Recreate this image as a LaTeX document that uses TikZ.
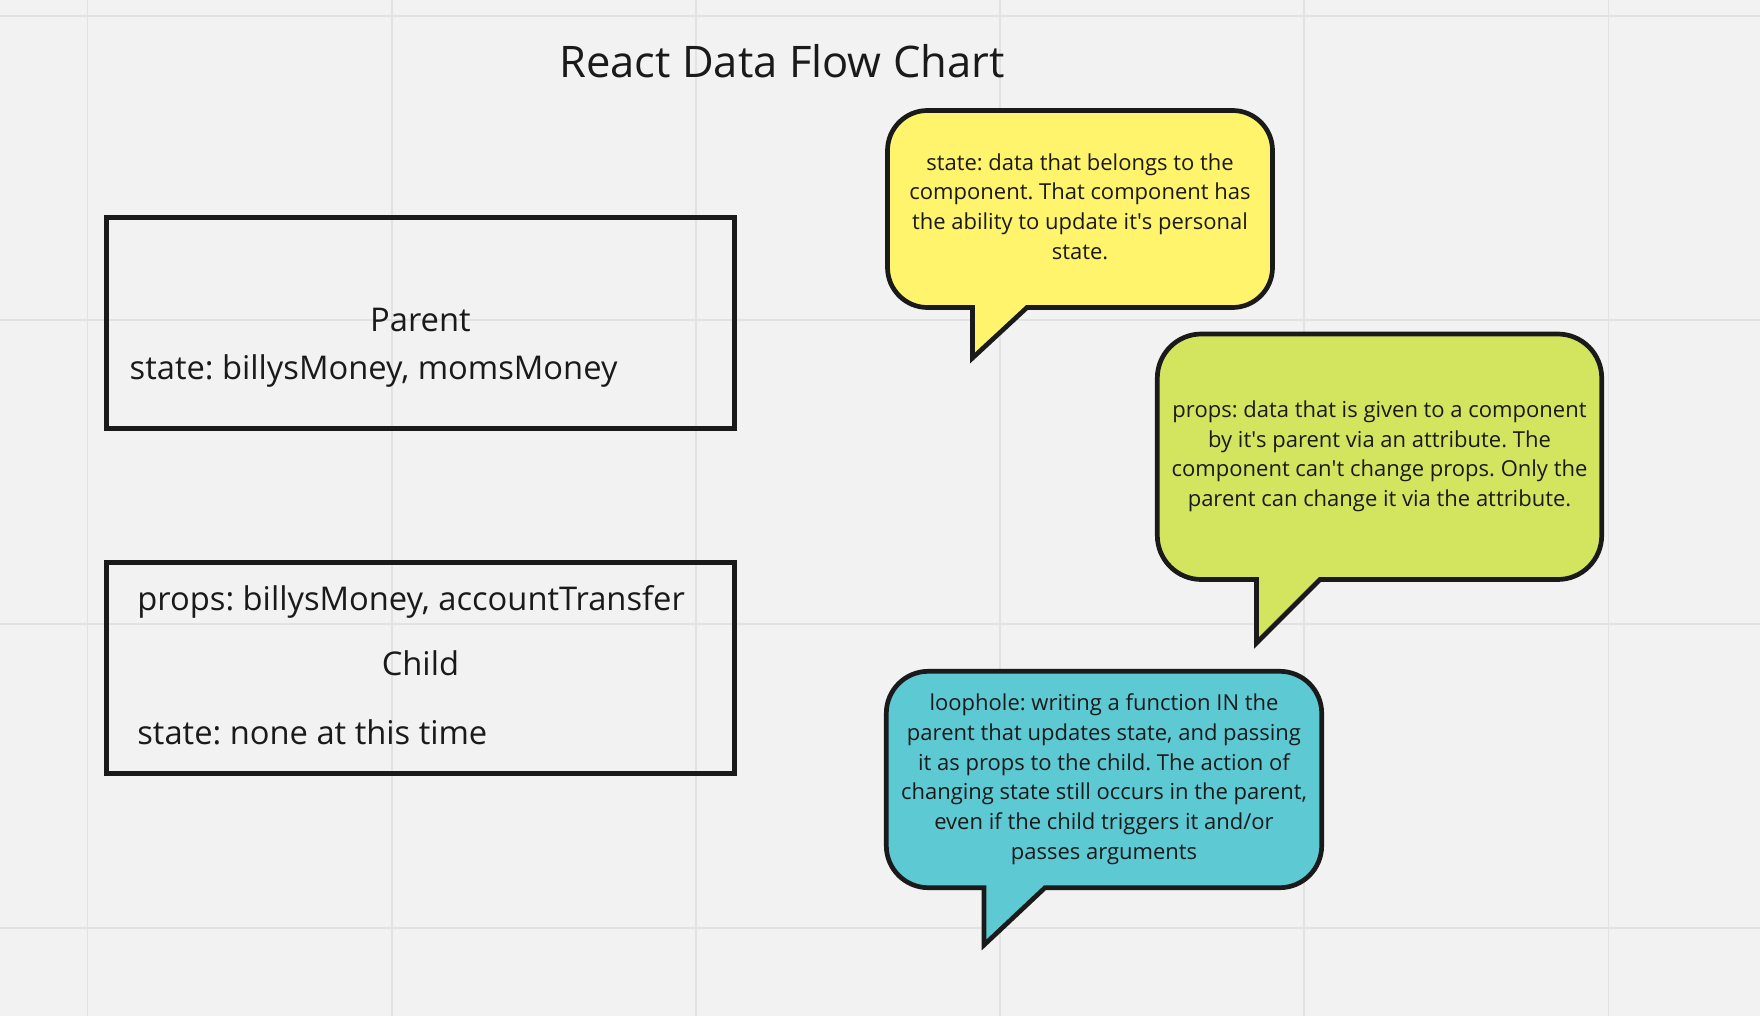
\documentclass[tikz,border=0pt]{standalone}
\usepackage{fontspec}
\setmainfont[Ligatures=NoCommon]{Open Sans}
\definecolor{bg}{HTML}{F2F2F2}
\definecolor{gridc}{HTML}{E2E2E2}
\definecolor{ink}{HTML}{1A1A1A}
\definecolor{byellow}{HTML}{FFF46B}
\definecolor{bgreen}{HTML}{D3E55F}
\definecolor{bteal}{HTML}{5DC9D3}
\tikzset{
  gridline/.style={draw=gridc, line width=1.6pt},
  compbox/.style={draw=ink, line width=5.2pt},
  bubble/.style={draw=ink, line width=4.7pt, line join=miter, miter limit=10},
  boxtext/.style={inner sep=0pt, text=ink, font=\fontsize{32.7}{40}\selectfont\frenchspacing},
  bubtext/.style={inner sep=0pt, text=ink, align=center, anchor=north, font=\fontsize{22}{29.7}\selectfont\frenchspacing},
}
\newcommand{\q}{\textquotesingle}
% #1 x0, #2 y0, #3 x1, #4 y1, #5 tail left, #6 tail right, #7 tip y, #8 radius
\newcommand{\bubblepath}[8]{(#5,#4) -- (#5,#7) -- (#6,#4) -- ({#3-#8},#4)
  arc[start angle=90, end angle=0, radius=#8] -- (#3,{#2+#8})
  arc[start angle=0, end angle=-90, radius=#8] -- ({#1+#8},#2)
  arc[start angle=-90, end angle=-180, radius=#8] -- (#1,{#4-#8})
  arc[start angle=180, end angle=90, radius=#8] -- cycle}
\begin{document}
\begin{tikzpicture}[x=1pt, y=-1pt]
\fill[bg] (0,0) rectangle (1760,1016);
\useasboundingbox (0,0) rectangle (1760,1016);
% grid
\foreach \gx in {87.5,391.7,695.9,1000,1304.2,1608.4} \draw[gridline] (\gx,0) -- (\gx,1016);
\foreach \gy in {320,624,928.2} \draw[gridline] (0,\gy) -- (1760,\gy);
\draw[draw=gridc, line width=2.6pt] (0,16) -- (1760,16);

% title
\node[inner sep=0pt, text=ink, anchor=base, font=\fontsize{43.5}{50}\selectfont] (title) at (782,77.5) {React Data Flow Chart};

% Parent box
\draw[compbox] (106.8,217.8) rectangle (734.2,428.8);
\node[boxtext, anchor=base] (parentname) at (420.4,331.7) {Parent};
\node[boxtext, anchor=base west] (parentstate) at (129.5,379.3) {state: billysMoney, momsMoney};

% Child box
\draw[compbox] (106.8,562.2) rectangle (734.2,773.2);
\node[boxtext, anchor=base west] (childprops) at (137.2,610) {props: billysMoney, accountTransfer};
\node[boxtext, anchor=base] (childname) at (420.4,675) {Child};
\node[boxtext, anchor=base west] (childstate) at (137.2,744) {state: none at this time};

% bubbles
\filldraw[bubble, fill=byellow] \bubblepath{887.5}{110.5}{1272.5}{307.5}{972.5}{1027}{358}{40};
\node[bubtext] (statenote) at (1080,149.2) {\strut state: data that belongs to the\\component. That component has\\the ability to update it\q s personal\\state.};

\filldraw[bubble, fill=bgreen] \bubblepath{1157.3}{334}{1601.7}{579.5}{1256.5}{1320}{643}{44};
\node[bubtext] (propsnote) at (1379.5,396.5) {\strut props: data that is given to a component\\by it\q s parent via an attribute. The\\component can\q t change props. Only the\\parent can change it via the attribute.};

\filldraw[bubble, fill=bteal] \bubblepath{886.3}{671.3}{1321.7}{887.7}{984}{1045}{945}{42};
\node[bubtext] (loopnote) at (1104,689.9) {\strut loophole: writing a function IN the\\parent that updates state, and passing\\it as props to the child. The action of\\changing state still occurs in the parent,\\even if the child triggers it and/or\\passes arguments};
\end{tikzpicture}
\end{document}
